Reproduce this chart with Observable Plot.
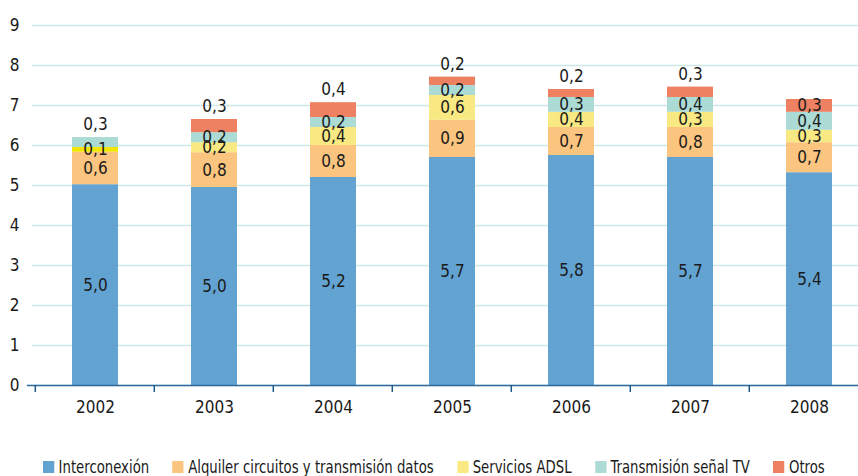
<!DOCTYPE html>
<html><head><meta charset="utf-8">
<script src="https://cdn.jsdelivr.net/npm/d3@7"></script>
<script src="https://cdn.jsdelivr.net/npm/@observablehq/plot@0.6"></script>
<style>
body{margin:0;background:#fff;font-family:"DejaVu Sans Condensed","Liberation Sans Narrow",sans-serif;overflow:hidden;}
#chart svg{display:block;}
#legendWrap{width:858px;height:18px;position:relative;}
#legend{position:absolute;left:0;top:0px;display:flex;gap:27px;font-size:17px;line-height:18px;color:#1a1a1a;white-space:nowrap;transform-origin:0 50%;}
#legend .item{display:flex;align-items:center;white-space:nowrap;}
#legend .sw{width:13px;height:12px;margin-right:5px;display:inline-block;}
</style></head><body><div id="chart"></div><div id="legendWrap"><div id="legend"></div></div>
<script>
const years = ["2002","2003","2004","2005","2006","2007","2008"];
const seriesNames = ["Interconexión","Alquiler circuitos y transmisión datos","Servicios ADSL","Transmisión señal TV","Otros"];
const seriesColors = ["#62a3d2","#fbc57f","#f8e983","#acdbd5","#ee8161"];
const interconexion = [5.02,4.95,5.20,5.70,5.75,5.70,5.32];
const alquiler = [0.81,0.87,0.80,0.93,0.70,0.75,0.75];
const adsl = [0.12,0.25,0.45,0.62,0.38,0.38,0.31];
const senalTV = [0.25,0.25,0.25,0.25,0.37,0.37,0.45];
const otros = [0,0.33,0.37,0.21,0.20,0.26,0.32];
const labInterconexion = ["5,0","5,0","5,2","5,7","5,8","5,7","5,4"];
const labAlquiler = ["0,6","0,8","0,8","0,9","0,7","0,8","0,7"];
const labAdsl = ["0,1","0,2","0,4","0,6","0,4","0,3","0,3"];
const labSenalTV = ["0,3","0,2","0,2","0,2","0,3","0,4","0,4"];
const labOtros = ["","0,3","0,4","0,2","0,2","0,3","0,3"];
const yTicks = [0,1,2,3,4,5,6,7,8,9];
const topLabelInside = ["2008"];

const values = [interconexion, alquiler, adsl, senalTV, otros];
const labels = [labInterconexion, labAlquiler, labAdsl, labSenalTV, labOtros];

const rows = [];
years.forEach((yr, i) => {
  let base = 0;
  let lastIdx = -1;
  values.forEach((v, s) => { if (v[i] > 0) lastIdx = s; });
  values.forEach((v, s) => {
    const val = v[i];
    rows.push({year: yr, series: seriesNames[s], value: val, y1: base, y2: base + val,
      label: labels[s][i], isTop: s === lastIdx && !topLabelInside.includes(yr)});
    base += val;
  });
});
const bars = rows.filter(d => d.value > 0);
const midLabels = bars.filter(d => !d.isTop && d.label);
const topLabels = bars.filter(d => d.isTop && d.label);

const colorMap = new Map(seriesNames.map((n, i) => [n, seriesColors[i]]));
const fillOf = d => (d.year === "2002" && d.series === "Servicios ADSL") ? "#f3e40a" : colorMap.get(d.series);

const W = 858, H = 458;
const xRange = [34, 870];
const step = (xRange[1] - xRange[0]) / years.length;
const FONT = '"DejaVu Sans Condensed","Liberation Sans Narrow",sans-serif';

const chart = Plot.plot({
  width: W, height: H,
  marginTop: 25, marginBottom: 73, marginLeft: 32, marginRight: 0,
  style: {fontFamily: FONT, fontSize: "17px", color: "#1a1a1a", background: "#fff", overflow: "visible"},
  x: {domain: years, range: xRange, paddingInner: 0.615, paddingOuter: 0.3075, label: null},
  y: {domain: [0, 9], label: null},
  marks: [
    Plot.gridY(yTicks, {stroke: "#cde8e6", strokeOpacity: 1, strokeWidth: 1.5}),
    Plot.axisY(yTicks, {tickSize: 0, tickPadding: 13, fontSize: 17, label: null, tickFormat: d => String(d)}),
    Plot.rectY(bars, {x: "year", y1: "y1", y2: "y2", fill: fillOf}),
    Plot.ruleY([0], {stroke: "#2f6a9a", strokeWidth: 1.5, insetLeft: -5}),
    Plot.axisX(years, {tickSize: 0, tickPadding: 15, fontSize: 17, label: null}),
    Plot.text(midLabels, {x: "year", y: d => (d.y1 + d.y2) / 2, text: "label", fill: "#1a1a1a", fontSize: 17}),
    Plot.text(topLabels, {x: "year", y: "y2", dy: -13, text: "label", fill: "#1a1a1a", fontSize: 17})
  ]
});
document.getElementById("chart").appendChild(chart);

// tick marks below the axis line at band boundaries
const svg = d3.select(chart);
const ys = chart.scale("y"), xs = chart.scale("x");
const y0 = ys.apply(0);
const g = svg.append("g").attr("stroke", "#1f5a8c").attr("stroke-width", 1.5);
years.forEach(yr => {
  const xb = xs.apply(yr) - (step - xs.bandwidth) / 2;
  g.append("line").attr("x1", xb).attr("x2", xb).attr("y1", y0).attr("y2", y0 + 7);
});

const legend = document.getElementById("legend");
seriesNames.forEach((n, i) => {
  const it = document.createElement("div");
  it.className = "item";
  it.innerHTML = `<span class="sw" style="background:${seriesColors[i]}"></span><span>${n}</span>`;
  legend.appendChild(it);
});
// fit legend into the span the reference uses (x 43 .. 825)
const legLeft = 43, legWidth = 782;
const natural = legend.scrollWidth;
const k = legWidth / natural;
legend.style.left = legLeft + "px";
legend.style.transform = `scaleX(${k})`;
</script>
</body></html>
